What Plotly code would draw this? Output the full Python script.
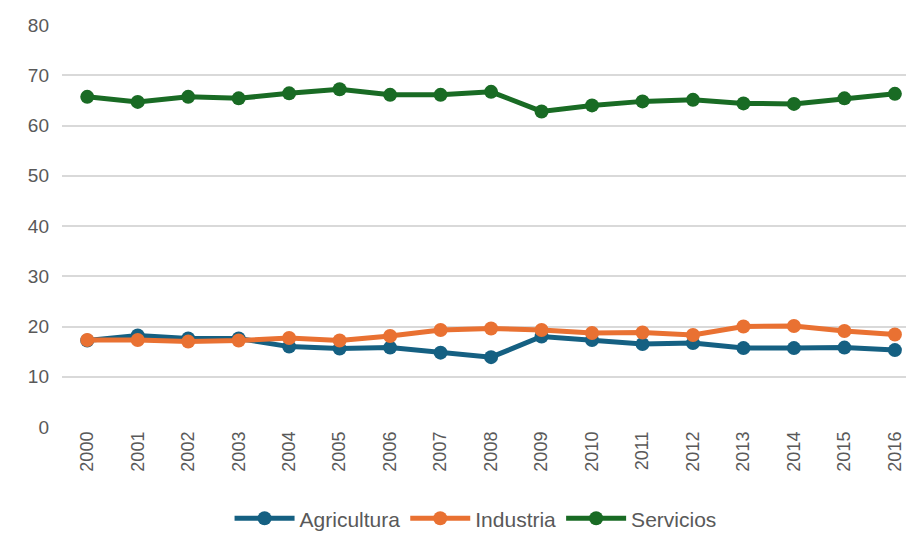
import plotly.graph_objects as go

years = [str(y) for y in range(2000, 2017)]

agricultura = [17.2, 18.2, 17.6, 17.6, 16.0, 15.6, 15.8, 14.8, 13.9, 18.0,
               17.3, 16.5, 16.7, 15.7, 15.7, 15.8, 15.3]
industria = [17.3, 17.3, 17.0, 17.2, 17.7, 17.2, 18.1, 19.3, 19.6, 19.3,
             18.7, 18.8, 18.3, 20.0, 20.1, 19.1, 18.4]
servicios = [65.7, 64.7, 65.7, 65.4, 66.4, 67.2, 66.1, 66.1, 66.7, 62.8,
             64.0, 64.8, 65.1, 64.4, 64.3, 65.4, 66.3]

series = [
    ("Agricultura", agricultura, "#156082"),
    ("Industria", industria, "#E97132"),
    ("Servicios", servicios, "#196B24"),
]

fig = go.Figure()
for name, vals, color in series:
    fig.add_trace(go.Scatter(
        x=years, y=vals, name=name, mode="lines+markers",
        line=dict(color=color, width=5),
        marker=dict(color=color, size=14),
    ))

# page body has an 8px margin all round, so the figure is sized to fit inside it
fig.update_layout(
    width=898, height=526,
    margin=dict(l=54, r=0, t=17, b=107, autoexpand=False),
    plot_bgcolor="white", paper_bgcolor="white",
    font=dict(family="Liberation Sans", color="#595959", size=19),
    showlegend=True,
    legend=dict(orientation="h", x=0.49, xanchor="center", y=-0.228, yanchor="middle",
                font=dict(family="Liberation Sans Narrow, Liberation Sans", size=21, color="#595959"),
                itemwidth=60),
)
fig.update_xaxes(type="category", range=[-0.5, 16.22], tickangle=-90, automargin=False,
                 tickfont=dict(size=18), showgrid=False, showline=False, ticks="")
fig.update_yaxes(range=[0, 80], dtick=10, gridcolor="#d9d9d9", gridwidth=1.5, automargin=False,
                 zeroline=False, tickfont=dict(size=19), ticklabelstandoff=12)

fig.write_html("out.html")
